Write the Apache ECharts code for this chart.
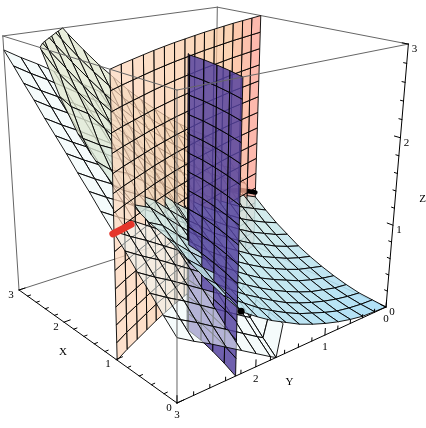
<!DOCTYPE html>
<html>
<head>
<meta charset="utf-8">
<style>
  html, body { margin: 0; padding: 0; background: #fff; }
  #chart { width: 426px; height: 428px; }
</style>
<script src="https://cdn.jsdelivr.net/npm/echarts@6/dist/echarts.min.js"></script>
</head>
<body>
<div id="chart"></div>
<script>
// grid of the surface, both axes run 0..3
const gridX = [0, 0.2, 0.4, 0.6, 0.8, 1, 1.2, 1.4, 1.6, 1.8, 2, 2.2, 2.4, 2.6, 2.8, 3];
const gridY = [0, 0.2, 0.4, 0.6, 0.8, 1, 1.2, 1.4, 1.6, 1.8, 2, 2.2, 2.4, 2.6, 2.8, 3];

// upper sheet, one row per gridY
const upperZ = [
  [0, 0.01, 0.02, 0.05, 0.09, 0.14, 0.2, 0.27, 0.36, 0.45, 0.56, 0.68, 0.81, 0.95, 1.1, 1.26],
  [0.01, 0.02, 0.04, 0.07, 0.12, 0.18, 0.24, 0.32, 0.41, 0.51, 0.63, 0.75, 0.89, 1.03, 1.19, 1.36],
  [0.02, 0.04, 0.07, 0.11, 0.16, 0.22, 0.29, 0.38, 0.48, 0.58, 0.7, 0.84, 0.98, 1.13, 1.29, 1.46],
  [0.05, 0.07, 0.11, 0.15, 0.21, 0.28, 0.36, 0.46, 0.55, 0.66, 0.79, 0.93, 1.08, 1.23, 1.4, 1.58],
  [0.09, 0.12, 0.16, 0.21, 0.28, 0.35, 0.43, 0.53, 0.64, 0.76, 0.89, 1.03, 1.19, 1.35, 1.53, 1.71],
  [0.14, 0.18, 0.22, 0.28, 0.35, 0.43, 0.52, 0.62, 0.74, 0.86, 1, 1.15, 1.31, 1.48, 1.66, 1.85],
  [0.2, 0.24, 0.29, 0.36, 0.43, 0.52, 0.62, 0.72, 0.85, 0.97, 1.12, 1.28, 1.44, 1.62, 1.8, 2],
  [0.27, 0.32, 0.38, 0.45, 0.53, 0.62, 0.72, 0.83, 0.97, 1.1, 1.25, 1.41, 1.58, 1.77, 1.96, 2.16],
  [0.36, 0.41, 0.48, 0.55, 0.64, 0.74, 0.85, 0.97, 1.1, 1.24, 1.4, 1.57, 1.75, 1.93, 2.13, 2.34],
  [0.45, 0.51, 0.58, 0.66, 0.76, 0.86, 0.97, 1.1, 1.24, 1.39, 1.55, 1.72, 1.91, 2.1, 2.31, 2.52],
  [0.56, 0.63, 0.7, 0.79, 0.89, 1, 1.12, 1.25, 1.4, 1.55, 1.72, 1.9, 2.09, 2.29, 2.5, 2.72],
  [0.68, 0.75, 0.83, 0.93, 1.03, 1.15, 1.28, 1.41, 1.57, 1.72, 1.9, 2.08, 2.28, 2.49, 2.7, 2.93],
  [0.81, 0.89, 0.98, 1.08, 1.19, 1.31, 1.44, 1.52, 1.7, 1.91, 2.09, 2.28, 2.48, 2.7, 2.92, 3.16],
  [0.95, 1.03, 1.13, 1.23, 1.35, 1.4, 1.52, 1.62, 1.78, 2, 2.29, 2.49, 2.7, 2.92, 3.15, 3.39],
  [1.1, 1.19, 1.29, 1.4, 1.53, 1.6, 1.65, 1.76, 1.93, 2.11, 2.4, 2.7, 2.92, 3.15, 3.38, 3.62],
  [1.26, 1.36, 1.46, 1.58, 1.71, 1.8, 1.9, 1.96, 2.14, 2.32, 2.6, 2.98, 3.16, 3.39, 3.62, 3.88]
];
// the upper sheet stops at this line in the XY plane
const upperEdgeX = [0, 2.2];
const upperEdgeY = [2.2, 3];

// lower sheet, first row is the short wall at x = 0
const lowerY = [1.64, 1.72, 1.8, 2, 2.2, 2.4, 2.6, 2.8, 3];
const lowerZ = [
  [0.36, 0.41, 0.47, 0.55, 0.64, 0.74, 0.85, 0.97, 1.1, 1.25, 1.4, 1.54, 1.69, 1.83, 1.98, 2.12],
  [0, 0.14, 0.29, 0.43, 0.58, 0.72, 0.86, 1.01, 1.15, 1.3, 1.44, 1.58, 1.73, 1.87, 2.02, 2.16],
  [0.04, 0.18, 0.33, 0.47, 0.62, 0.76, 0.9, 1.05, 1.19, 1.34, 1.48, 1.62, 1.77, 1.91, 2.06, 2.2],
  [0.15, 0.29, 0.44, 0.58, 0.73, 0.87, 1.01, 1.16, 1.3, 1.45, 1.59, 1.73, 1.88, 2.02, 2.17, 2.31],
  [0.26, 0.4, 0.55, 0.69, 0.84, 0.98, 1.12, 1.27, 1.41, 1.56, 1.7, 1.84, 1.99, 2.13, 2.28, 2.42],
  [0.37, 0.51, 0.66, 0.8, 0.95, 1.09, 1.23, 1.38, 1.52, 1.67, 1.81, 1.95, 2.1, 2.24, 2.39, 2.53],
  [0.48, 0.62, 0.77, 0.91, 1.06, 1.2, 1.34, 1.49, 1.63, 1.78, 1.92, 2.06, 2.21, 2.35, 2.5, 2.64],
  [0.58, 0.72, 0.87, 1.01, 1.16, 1.3, 1.44, 1.59, 1.73, 1.88, 2.02, 2.16, 2.31, 2.45, 2.6, 2.74],
  [0.69, 0.83, 0.98, 1.12, 1.27, 1.41, 1.55, 1.7, 1.84, 1.99, 2.13, 2.27, 2.42, 2.56, 2.71, 2.85]
];

// orange sheet stands on this curve
const orangeY = [3, 2.8, 2.6, 2.4, 2.2, 2, 1.8, 1.6, 1.4, 1.2, 1, 0.8, 0.6, 0.4, 0.2, 0];
const orangeX = [0.98, 1.09, 1.19, 1.29, 1.39, 1.48, 1.57, 1.65, 1.73, 1.81, 1.88, 1.95, 2.02, 2.08, 2.14, 2.2];
// purple sheet stands on this one
const purpleX = [0, 0.25, 0.5, 0.75, 1, 1.06];
const purpleY = [2.27, 2.2, 2.14, 2.09, 2.06, 2.03];
const wallZ = [0, 0.2, 0.4, 0.6, 0.8, 1, 1.2, 1.4, 1.6, 1.8, 2, 2.2, 2.4, 2.6, 2.8, 3];

// thick curves and the dot, as x, y, z
const blackCurve = [[2.2, 0, 0.74], [2.38, 0.08, 0.74], [2.5, 0.28, 0.74], [2.6, 0.47, 0.74]];
const redCurve = [[1, 3, 1.38], [1.06, 2.85, 1.37], [1.12, 2.7, 1.36]];
const blackDot = [0.02, 2.2, 0.68];

const axisTicks = [0, 0.2, 0.4, 0.6, 0.8, 1, 1.2, 1.4, 1.6, 1.8, 2, 2.2, 2.4, 2.6, 2.8, 3];
const tickLabels = [0, 1, 2, 3];

// perspective view of the box
function project(p) {
  const u = p[0] / 3, v = (3 - p[1]) / 3, w = p[2] / 3;
  const d = 1 + 0.257 * u + 0.2106 * v - 0.117 * w;
  return {
    x: (177 - 153.1 * u + 290.3 * v - 20.7 * w) / d,
    y: (403 - 38.5 * u - 31.3 * v - 323.5 * w) / d,
    depth: d
  };
}

// keep the part of a polygon where keep(p) >= 0
function clipPoly(poly, keep) {
  const out = [];
  for (let i = 0; i < poly.length; i++) {
    const a = poly[i], b = poly[(i + 1) % poly.length];
    const ka = keep(a), kb = keep(b);
    if (ka >= 0) out.push(a);
    if ((ka >= 0) !== (kb >= 0)) {
      const t = ka / (ka - kb);
      out.push([a[0] + (b[0] - a[0]) * t, a[1] + (b[1] - a[1]) * t, a[2] + (b[2] - a[2]) * t]);
    }
  }
  return out;
}

function mix(c1, c2, t, alpha) {
  t = Math.max(0, Math.min(1, t));
  const ch = c1.map((c, i) => Math.round(c + (c2[i] - c) * t));
  return `rgba(${ch[0]},${ch[1]},${ch[2]},${alpha})`;
}

const items = [];

function addCell(poly, fill) {
  if (poly.length < 3) return;
  const pts = poly.map(project);
  const depth = pts.reduce((s, q) => s + q.depth, 0) / pts.length;
  items.push({ kind: 'polygon', pts: pts, depth: depth, fill: fill });
}

// upper sheet
const edgeSlope = (upperEdgeY[1] - upperEdgeY[0]) / (upperEdgeX[1] - upperEdgeX[0]);
for (let j = 0; j < gridY.length - 1; j++) {
  for (let i = 0; i < gridX.length - 1; i++) {
    let poly = [
      [gridX[i], gridY[j], upperZ[j][i]],
      [gridX[i + 1], gridY[j], upperZ[j][i + 1]],
      [gridX[i + 1], gridY[j + 1], upperZ[j + 1][i + 1]],
      [gridX[i], gridY[j + 1], upperZ[j + 1][i]]
    ];
    poly = clipPoly(poly, p => 3 - p[2]);
    if (poly.length) poly = clipPoly(poly, p => upperEdgeY[0] + edgeSlope * p[0] - p[1]);
    const t = (gridX[i] + 0.5 * gridY[j]) / 3.2;
    const fill = t < 0.6
      ? mix([165, 220, 245], [205, 233, 232], t / 0.6, 0.86)
      : mix([205, 233, 232], [226, 232, 210], (t - 0.6) / 0.4, 0.8);
    addCell(poly, fill);
  }
}

// lower sheet
for (let j = 0; j < lowerY.length - 1; j++) {
  for (let i = 0; i < gridX.length - 1; i++) {
    addCell([
      [gridX[i], lowerY[j], lowerZ[j][i]],
      [gridX[i + 1], lowerY[j], lowerZ[j][i + 1]],
      [gridX[i + 1], lowerY[j + 1], lowerZ[j + 1][i + 1]],
      [gridX[i], lowerY[j + 1], lowerZ[j + 1][i]]
    ], 'rgba(236,247,248,0.55)');
  }
}

// orange sheet
for (let i = 0; i < orangeX.length - 1; i++) {
  const t = i / (orangeX.length - 2);
  const fill = t < 0.8
    ? mix([252, 214, 186], [250, 195, 150], t / 0.8, 0.72)
    : mix([250, 195, 150], [252, 165, 150], (t - 0.8) / 0.2, 0.78);
  for (let k = 0; k < wallZ.length - 1; k++) {
    addCell([
      [orangeX[i], orangeY[i], wallZ[k]],
      [orangeX[i + 1], orangeY[i + 1], wallZ[k]],
      [orangeX[i + 1], orangeY[i + 1], wallZ[k + 1]],
      [orangeX[i], orangeY[i], wallZ[k + 1]]
    ], fill);
  }
}

// purple sheet, darker where it turns edge-on
for (let i = 0; i < purpleX.length - 1; i++) {
  const fill = i === purpleX.length - 2 ? 'rgba(44,36,100,0.92)' : 'rgba(84,66,158,0.84)';
  for (let k = 0; k < wallZ.length - 1; k++) {
    addCell([
      [purpleX[i], purpleY[i], wallZ[k]],
      [purpleX[i + 1], purpleY[i + 1], wallZ[k]],
      [purpleX[i + 1], purpleY[i + 1], wallZ[k + 1]],
      [purpleX[i], purpleY[i], wallZ[k + 1]]
    ], fill);
  }
}

function addLine(path, color, width, depth) {
  items.push({ kind: 'polyline', pts: path.map(project), depth: depth, color: color, width: width });
}
addLine(blackCurve, '#000', 4.5, project(blackCurve[1]).depth - 0.03);
addLine(redCurve, '#e5352a', 7, project(redCurve[1]).depth - 0.03);
items.push({ kind: 'dot', pts: [project(blackDot)], depth: 0.9 });

items.sort((a, b) => b.depth - a.depth);

// box edges: the back ones go under the sheets, the front ones over them
const boxBack = [
  [[3, 3, 0], [3, 0, 0]], [[0, 0, 0], [3, 0, 0]], [[3, 0, 0], [3, 0, 3]],
  [[3, 3, 3], [3, 0, 3]], [[3, 0, 3], [0, 0, 3]]
];
const boxFront = [
  [[3, 3, 3], [0, 3, 3]], [[0, 3, 3], [0, 0, 3]], [[0, 3, 0], [0, 3, 3]],
  [[3, 3, 0], [3, 3, 3]]
];
boxBack.forEach(e => items.unshift({ kind: 'polyline', pts: e.map(project), color: '#666', width: 1 }));
boxFront.forEach(e => items.push({ kind: 'polyline', pts: e.map(project), color: '#666', width: 1 }));

// axes with ticks, ticks point into the floor or up
const axes = [
  { name: 'X', at: v => [v, 3, 0], tick: [0, -0.04, 0], off: [-8, 5], title: [2, 3, 0], tOff: [-1, 30] },
  { name: 'Y', at: v => [0, v, 0], tick: [0, 0, 0.04], off: [0, 12], title: [0, 1.5, 0], tOff: [-2, 32] },
  { name: 'Z', at: v => [0, 0, v], tick: [0.04, 0, 0], off: [6, 5], title: [0, 0, 1.5], tOff: [26, 17] }
];
axes.forEach(ax => {
  axisTicks.forEach(v => {
    const major = tickLabels.indexOf(v) >= 0;
    const a = ax.at(v), k = major ? 2 : 1;
    const b = [a[0] + ax.tick[0] * k, a[1] + ax.tick[1] * k, a[2] + ax.tick[2] * k];
    items.push({ kind: 'polyline', pts: [project(a), project(b)], color: '#000', width: 1 });
  });
  items.push({ kind: 'polyline', pts: [project(ax.at(0)), project(ax.at(3))], color: '#000', width: 1 });
  tickLabels.forEach(v => {
    const q = project(ax.at(v));
    items.push({ kind: 'text', pts: [q], off: ax.off, text: String(v) });
  });
  items.push({ kind: 'text', pts: [project(ax.title)], off: ax.tOff, text: ax.name });
});

function renderItem(params, api) {
  const it = items[api.value(0)];
  const pts = it.pts.map(q => api.coord([q.x, q.y]));
  if (it.kind === 'polygon') {
    return {
      type: 'polygon',
      shape: { points: pts },
      style: { fill: it.fill, stroke: '#000', lineWidth: 0.9 }
    };
  }
  if (it.kind === 'polyline') {
    return {
      type: 'polyline',
      shape: { points: pts },
      style: { fill: 'none', stroke: it.color, lineWidth: it.width, lineCap: 'round' }
    };
  }
  if (it.kind === 'dot') {
    return { type: 'circle', shape: { cx: pts[0][0], cy: pts[0][1], r: 3.5 }, style: { fill: '#000' } };
  }
  return {
    type: 'text',
    style: {
      x: pts[0][0] + it.off[0],
      y: pts[0][1] + it.off[1],
      text: it.text,
      fill: '#000',
      font: '11px "Liberation Serif"',
      align: 'center',
      verticalAlign: 'middle'
    }
  };
}

const chart = echarts.init(document.getElementById('chart'), null, { renderer: 'canvas' });
chart.setOption({
  animation: false,
  backgroundColor: '#fff',
  grid: { left: 0, right: 0, top: 0, bottom: 0 },
  xAxis: { type: 'value', min: 0, max: 426, show: false },
  yAxis: { type: 'value', min: 0, max: 428, inverse: true, show: false },
  series: [{
    type: 'custom',
    coordinateSystem: 'cartesian2d',
    silent: true,
    progressive: 0,
    renderItem: renderItem,
    data: items.map((it, i) => [i]),
    encode: { x: -1, y: -1 }
  }]
});
window.addEventListener('resize', () => chart.resize());
</script>
</body>
</html>
